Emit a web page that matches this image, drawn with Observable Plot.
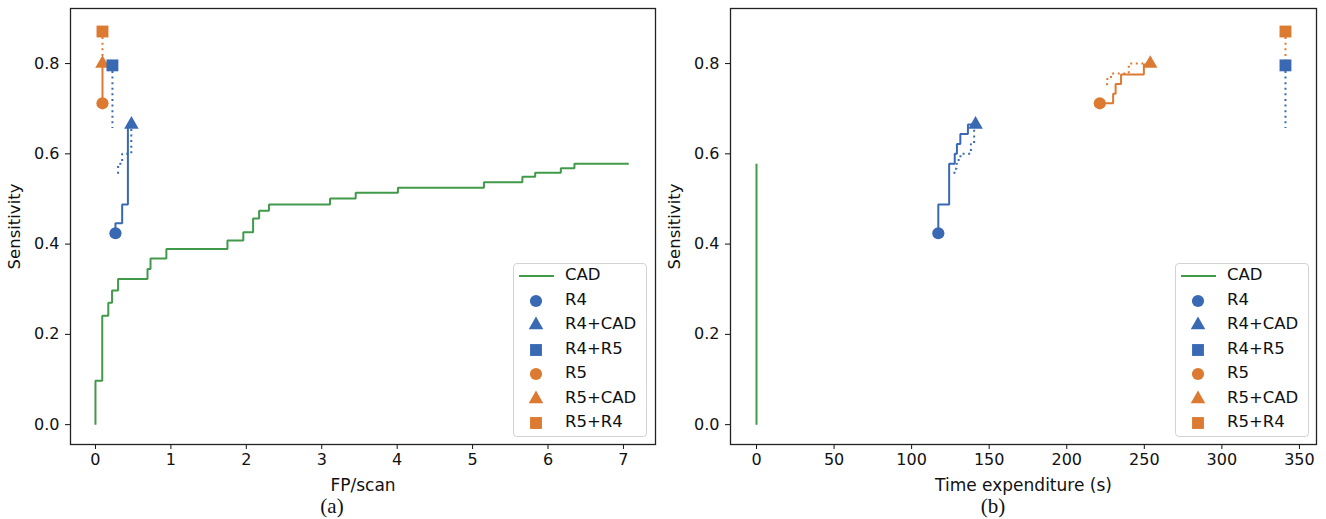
<!DOCTYPE html>
<html>
<head>
<meta charset="utf-8">
<script src="https://cdn.jsdelivr.net/npm/d3@7"></script>
<script src="https://cdn.jsdelivr.net/npm/@observablehq/plot@0.6"></script>
<style>
  html, body { margin: 0; padding: 0; background: white; }
  #wrap { position: relative; width: 1326px; height: 519px; overflow: hidden; font-family: "DejaVu Sans", sans-serif; }
  .panel { position: absolute; top: 0; }
  .legend { position: absolute; border: 1px solid #d3d3d3; border-radius: 4px; background: rgba(255,255,255,0.85); box-sizing: border-box; }
  .legend .row { position: absolute; left: 0; height: 24px; width: 100%; }
  .legend .row svg { position: absolute; top: 0; }
  .legend .row span { position: absolute; top: 1px; font-size: 16.5px; color: #111; white-space: nowrap; }
  .caption { position: absolute; top: 494px; width: 60px; text-align: center; font-family: "Liberation Serif", "DejaVu Serif", serif; font-size: 21px; color: #111; }
</style>
</head>
<body>
<div id="wrap"></div>
<script>
// ---------- data ----------
// CAD FROC curve (FP/scan vs sensitivity)
const cadFP   = [0, 0, 0.09, 0.17, 0.22, 0.30, 0.69, 0.73, 0.94, 1.75, 1.96, 2.09, 2.17, 2.30, 3.11, 3.45, 4.01, 5.15, 5.66, 5.83, 6.17, 6.35, 7.07];
const cadSens = [0, 0.097, 0.2415, 0.27, 0.297, 0.3226, 0.345, 0.368, 0.389, 0.408, 0.426, 0.457, 0.474, 0.4875, 0.501, 0.514, 0.525, 0.537, 0.549, 0.558, 0.568, 0.578, 0.578];
// CAD time expenditure
const cadTime     = [0, 0];
const cadTimeSens = [0, 0.578];

// reader operating points
const readers     = ["R4", "R4+CAD", "R4+R5", "R5", "R5+CAD", "R5+R4"];
const readerFP    = [0.265, 0.477, 0.225, 0.093, 0.093, 0.093];
const readerTime  = [117.2, 141.2, 341, 221.3, 253.8, 341];
const readerSens  = [0.424, 0.665, 0.796, 0.712, 0.80, 0.871];

// R4 -> R4+CAD (solid steps)
const r4CadFP       = [0.265, 0.265, 0.354, 0.43, 0.477];
const r4CadFPSens   = [0.424, 0.446, 0.488, 0.665, 0.665];
const r4CadTime     = [117.2, 117.2, 124.2, 127.8, 129.2, 131.4, 136.3, 141.2];
const r4CadTimeSens = [0.424, 0.488, 0.578, 0.600, 0.622, 0.644, 0.665, 0.665];
// R4 dotted steps
const r4DotFP       = [0.30, 0.30, 0.354, 0.475];
const r4DotFPSens   = [0.556, 0.578, 0.600, 0.655];
const r4DotTime     = [127.6, 127.6, 129.0, 130.3, 131.5, 138.2, 140.3];
const r4DotTimeSens = [0.556, 0.567, 0.578, 0.589, 0.600, 0.622, 0.655];
// R4+R5 dotted drop
const r45DotFP      = [0.225, 0.225];
const r45DotTime    = [341, 341];
const r45DotSens    = [0.796, 0.657];

// R5 -> R5+CAD (solid steps)
const r5CadFP       = [0.093, 0.093];
const r5CadFPSens   = [0.712, 0.80];
const r5CadTime     = [221.3, 229.9, 231.5, 235.0, 249.7, 253.8];
const r5CadTimeSens = [0.712, 0.733, 0.755, 0.776, 0.798, 0.798];
// R5 dotted steps (time)
const r5DotTime     = [226, 226, 228.5, 240, 252];
const r5DotTimeSens = [0.752, 0.766, 0.778, 0.80, 0.80];
// R5+R4 dotted drop
const r54DotFP      = [0.093, 0.093];
const r54DotTime    = [341, 341];
const r54DotSens    = [0.871, 0.80];

const sensTicks = [0, 0.2, 0.4, 0.6, 0.8];
const fpTicks   = [0, 1, 2, 3, 4, 5, 6, 7];
const timeTicks = [0, 50, 100, 150, 200, 250, 300, 350];

// ---------- styles ----------
const BLUE = "#3a69b3", ORANGE = "#dd7a32", GREEN = "#409a4a";
const readerColor  = {"R4": BLUE, "R4+CAD": BLUE, "R4+R5": BLUE, "R5": ORANGE, "R5+CAD": ORANGE, "R5+R4": ORANGE};
const readerSymbol = {"R4": "circle", "R4+CAD": "triangle", "R4+R5": "square", "R5": "circle", "R5+CAD": "triangle", "R5+R4": "square"};
const symbolR = {circle: 6.1, triangle: 5.4, square: 6.7};

const pts = (xs, ys) => xs.map((x, i) => ({x, y: ys[i]}));

function panel({xdomain, xticks, xlabel, cad, r4solid, r4dot, r45dot, r5solid, r5dot, r54dot, xKey, marginLeft, marginRight}) {
  const table = readers.map((name, i) => ({name, x: xKey[i], y: readerSens[i]}));
  const dots = ["circle", "triangle", "square"].map(sym =>
    Plot.dot(table.filter(d => readerSymbol[d.name] === sym), {
      x: "x", y: "y", symbol: sym, r: symbolR[sym],
      fill: d => readerColor[d.name], stroke: "none"
    })
  );
  const lineOpts = (color, dotted) => ({
    x: "x", y: "y", curve: "step-after", stroke: color, strokeWidth: 2,
    strokeDasharray: dotted ? "2,3.6" : null, strokeLinecap: "butt", strokeLinejoin: "miter"
  });
  const marks = [
    Plot.line(pts(...cad), lineOpts(GREEN, false)),
    Plot.line(pts(...r4dot), lineOpts(BLUE, true)),
    Plot.line(pts(...r45dot), lineOpts(BLUE, true)),
    Plot.line(pts(...r54dot), lineOpts(ORANGE, true)),
    r5dot ? Plot.line(pts(...r5dot), lineOpts(ORANGE, true)) : null,
    Plot.line(pts(...r4solid), lineOpts(BLUE, false)),
    Plot.line(pts(...r5solid), lineOpts(ORANGE, false)),
    ...dots,
    Plot.axisX({ticks: xticks, tickSize: 5, tickPadding: 4, tickFormat: d => String(d), label: null, fontSize: 16}),
    Plot.axisX({ticks: [], tickSize: 0, label: xlabel, labelAnchor: "center", labelArrow: "none",
      labelOffset: 46, fontSize: 17}),
    Plot.axisY({ticks: sensTicks, tickSize: 5, tickPadding: 6, tickFormat: d3.format(".1f"), label: null, fontSize: 16}),
    Plot.axisY({ticks: [], tickSize: 0, label: "Sensitivity", labelAnchor: "center", labelArrow: "none",
      labelOffset: 62, fontSize: 16.5}),
    Plot.frame({stroke: "#222", strokeWidth: 1.3})
  ].filter(Boolean);
  return Plot.plot({
    width: 663, height: 500,
    marginLeft, marginRight, marginTop: 8, marginBottom: 56,
    x: {domain: xdomain},
    y: {domain: [-0.044, 0.922]},
    style: {fontFamily: "DejaVu Sans", fontSize: "16px", color: "#111", background: "white", overflow: "visible"},
    marks
  });
}

const left = panel({
  xdomain: [-0.331, 7.425], xticks: fpTicks, xlabel: "FP/scan",
  cad: [cadFP, cadSens],
  r4solid: [r4CadFP, r4CadFPSens], r4dot: [r4DotFP, r4DotFPSens],
  r45dot: [r45DotFP, r45DotSens],
  r5solid: [r5CadFP, r5CadFPSens], r5dot: null,
  r54dot: [r54DotFP, r54DotSens],
  xKey: readerFP, marginLeft: 70, marginRight: 8
});
const right = panel({
  xdomain: [-16.76, 361], xticks: timeTicks, xlabel: "Time expenditure (s)",
  cad: [cadTime, cadTimeSens],
  r4solid: [r4CadTime, r4CadTimeSens], r4dot: [r4DotTime, r4DotTimeSens],
  r45dot: [r45DotTime, r45DotSens],
  r5solid: [r5CadTime, r5CadTimeSens], r5dot: [r5DotTime, r5DotTimeSens],
  r54dot: [r54DotTime, r54DotSens],
  xKey: readerTime, marginLeft: 67, marginRight: 10
});

const wrap = document.getElementById("wrap");
left.classList.add("panel");  left.style.left = "0px";
right.classList.add("panel"); right.style.left = "663px";
wrap.appendChild(left); wrap.appendChild(right);

// ---------- legends ----------
const legendItems = [{name: "CAD", color: GREEN, symbol: "line"}]
  .concat(readers.map(n => ({name: n, color: readerColor[n], symbol: readerSymbol[n]})));
const d3sym = {circle: d3.symbolCircle, triangle: d3.symbolTriangle, square: d3.symbolSquare};

function legend(leftPx) {
  const box = document.createElement("div");
  box.className = "legend";
  Object.assign(box.style, {left: leftPx + "px", top: "263px", width: "134px", height: "174px"});
  legendItems.forEach((it, i) => {
    const row = document.createElement("div");
    row.className = "row";
    row.style.top = (i * 24.5) + "px";
    const svg = d3.create("svg").attr("width", 44).attr("height", 24).style("left", "0px");
    if (it.symbol === "line") {
      svg.append("line").attr("x1", 5).attr("x2", 40).attr("y1", 12).attr("y2", 12)
        .attr("stroke", it.color).attr("stroke-width", 2);
    } else {
      const r = symbolR[it.symbol];
      svg.append("path").attr("transform", "translate(22,12)")
        .attr("d", d3.symbol(d3sym[it.symbol], Math.PI * r * r)())
        .attr("fill", it.color);
    }
    row.appendChild(svg.node());
    const span = document.createElement("span");
    span.textContent = it.name;
    span.style.left = "51px";
    row.appendChild(span);
    box.appendChild(row);
  });
  wrap.appendChild(box);
}
legend(513);
legend(1175);

// ---------- captions ----------
[["(a)", 332], ["(b)", 993]].forEach(([t, cx]) => {
  const c = document.createElement("div");
  c.className = "caption";
  c.textContent = t;
  c.style.left = (cx - 30) + "px";
  wrap.appendChild(c);
});
</script>
</body>
</html>
